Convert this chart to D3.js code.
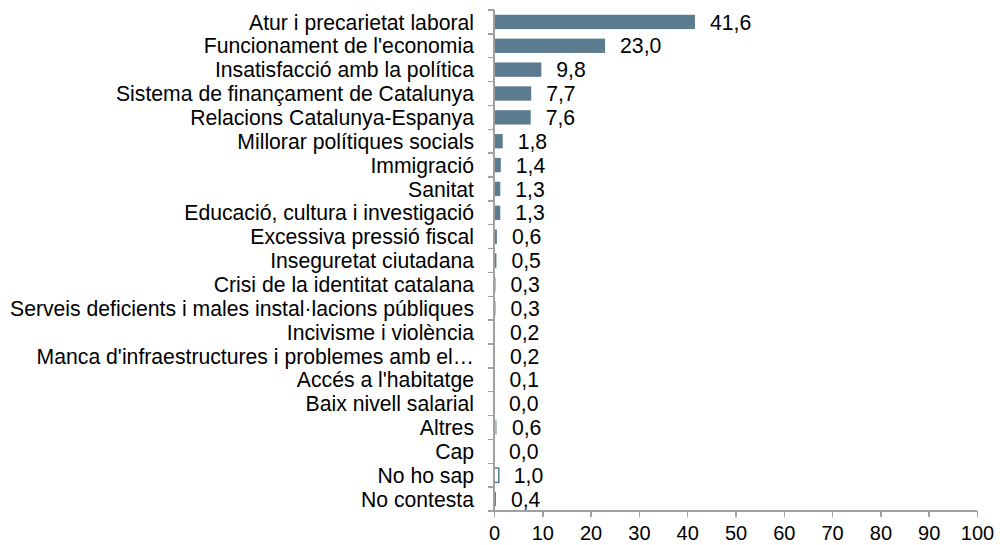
<!DOCTYPE html>
<html lang="ca">
<head>
    <meta charset="UTF-8">
    <title>problemes</title>
    <script src="https://d3js.org/d3.v7.min.js"></script>
    <style>
        body { margin: 0; background: #fff; }
        .axis path, .axis line { fill: none; stroke: #a0a0a0; stroke-width: 1.5; shape-rendering: crispEdges; }
        text { font-family: "Liberation Sans", Arial, sans-serif; fill: #000; }
    </style>
</head>
<body>
<script>
    const categories = ['Atur i precarietat laboral', "Funcionament de l'economia", 'Insatisfacció amb la política',
        'Sistema de finançament de Catalunya', 'Relacions Catalunya-Espanya', 'Millorar polítiques socials',
        'Immigració', 'Sanitat', 'Educació, cultura i investigació', 'Excessiva pressió fiscal',
        'Inseguretat ciutadana', 'Crisi de la identitat catalana', 'Serveis deficients i males instal·lacions públiques',
        'Incivisme i violència', "Manca d'infraestructures i problemes amb el…", "Accés a l'habitatge",
        'Baix nivell salarial', 'Altres', 'Cap', 'No ho sap', 'No contesta']
    const values = [41.6, 23.0, 9.8, 7.7, 7.6, 1.8, 1.4, 1.3, 1.3, 0.6, 0.5, 0.3, 0.3, 0.2, 0.2, 0.1, 0.0, 0.6, 0.0, 1.0, 0.4]
    const xTicks = [0, 10, 20, 30, 40, 50, 60, 70, 80, 90, 100]

    const width = 1000
    const height = 545
    const plotLeft = 494, plotRight = 977, plotTop = 10, plotBottom = 511
    const fontSize = 21.2

    const data = categories.map(function (c, i) { return {name: c, value: values[i]} })

    const xScale = d3.scaleLinear().domain([0, 100]).range([plotLeft, plotRight])
    const yScale = d3.scaleBand().domain(categories).range([plotTop, plotBottom]).paddingInner(0.4).paddingOuter(0.2)

    const svg = d3.select('body').append('svg')
        .attr('width', width)
        .attr('height', height)

    function fillFor(d) {
        if (d.name === 'Altres') return '#a9bcc8'
        if (d.name === 'No ho sap') return '#ffffff'
        if (d.name === 'No contesta') return '#4d7c98'
        return '#5b7b8e'
    }

    svg.append('g').selectAll('rect')
        .data(data)
        .enter()
        .append('rect')
        .attr('x', xScale(0))
        .attr('y', function (d) { return yScale(d.name) })
        .attr('width', function (d) { return xScale(d.value) - xScale(0) })
        .attr('height', yScale.bandwidth())
        .attr('fill', fillFor)
        .attr('stroke', function (d) { return d.name === 'No ho sap' ? '#4d7c98' : 'none' })
        .attr('stroke-width', 1.5)

    svg.append('g').selectAll('text')
        .data(data)
        .enter()
        .append('text')
        .text(function (d) { return d.value.toFixed(1).replace('.', ',') })
        .attr('x', function (d) { return xScale(d.value) + 15 })
        .attr('y', function (d) { return yScale(d.name) + yScale.bandwidth() / 2 })
        .attr('dy', '0.36em')
        .attr('font-size', fontSize)

    // category labels
    svg.append('g').selectAll('text')
        .data(data)
        .enter()
        .append('text')
        .text(function (d) { return d.name })
        .attr('x', 474)
        .attr('y', function (d) { return yScale(d.name) + yScale.bandwidth() / 2 })
        .attr('dy', '0.36em')
        .attr('text-anchor', 'end')
        .attr('font-size', fontSize)

    // y axis line with ticks on band boundaries
    const step = (plotBottom - plotTop) / categories.length
    const yAxisG = svg.append('g').attr('class', 'axis')
    yAxisG.append('line').attr('x1', plotLeft).attr('x2', plotLeft).attr('y1', plotTop).attr('y2', plotBottom)
    yAxisG.selectAll('.tk')
        .data(d3.range(categories.length + 1))
        .enter()
        .append('line')
        .attr('x1', plotLeft - 6).attr('x2', plotLeft)
        .attr('y1', function (i) { return plotTop + i * step })
        .attr('y2', function (i) { return plotTop + i * step })

    const xAxis = d3.axisBottom(xScale).tickValues(xTicks).tickSize(6).tickPadding(9)
    const xg = svg.append('g')
        .attr('class', 'axis')
        .attr('transform', 'translate(0,' + plotBottom + ')')
        .call(xAxis)
    xg.select('.domain').attr('d', 'M' + plotLeft + ',0H' + plotRight)
    xg.selectAll('text').attr('font-size', 20).attr('font-family', '"Liberation Sans", Arial, sans-serif').attr('fill', '#000')
</script>
</body>
</html>
